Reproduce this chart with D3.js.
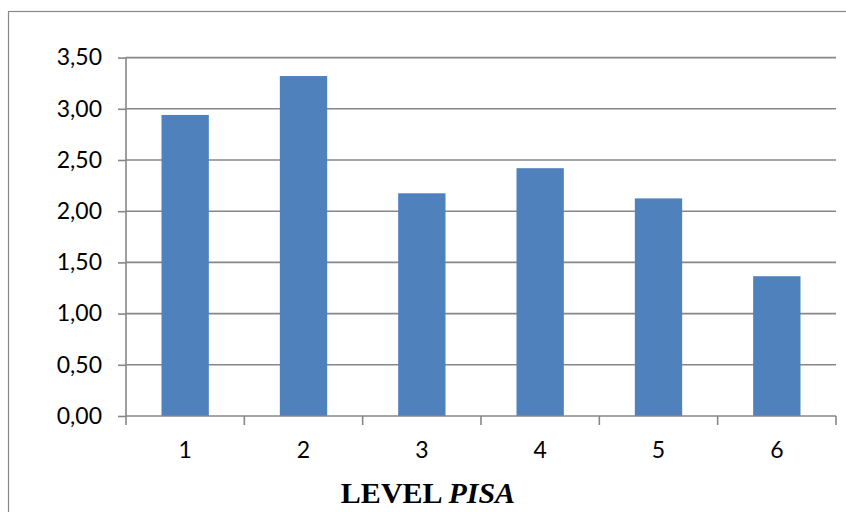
<!DOCTYPE html>
<html>
<head>
<meta charset="utf-8">
<script src="https://cdn.jsdelivr.net/npm/d3@7"></script>
<style>
  html, body { margin: 0; padding: 0; background: #fff; }
  svg { display: block; }
</style>
</head>
<body>
<svg id="chart" width="846" height="512"></svg>
<script>
const categories = ["1", "2", "3", "4", "5", "6"];
const values = [2.94, 3.32, 2.175, 2.42, 2.125, 1.365];
const yTicks = [0, 0.5, 1.0, 1.5, 2.0, 2.5, 3.0, 3.5];
const xTitle = "LEVEL ";
const xTitleItalic = "PISA";

const svg = d3.select("#chart");
const W = 846, H = 512;
const m = { left: 126, right: 10, top: 57.6, bottom: 96 };
const plotW = W - m.left - m.right;
const plotH = H - m.top - m.bottom;

// outer chart border
svg.append("rect")
  .attr("x", 8.5).attr("y", 11.5)
  .attr("width", 846).attr("height", 520)
  .attr("fill", "none").attr("stroke", "#898989").attr("stroke-width", 1.2);

const g = svg.append("g").attr("transform", `translate(${m.left},${m.top})`);

const x = d3.scaleBand().domain(categories).range([0, plotW]).padding(0);
const y = d3.scaleLinear().domain([0, 3.5]).range([plotH, 0]);

// gridlines
g.append("g").selectAll("line")
  .data(yTicks.filter(d => d > 0))
  .join("line")
  .attr("x1", 0).attr("x2", plotW)
  .attr("y1", d => y(d)).attr("y2", d => y(d))
  .attr("stroke", "#878787").attr("stroke-width", 1.6);

// bars
const barW = x.bandwidth() * 0.4;
g.append("g").selectAll("rect")
  .data(values)
  .join("rect")
  .attr("x", (d, i) => x(categories[i]) + (x.bandwidth() - barW) / 2)
  .attr("y", d => y(d))
  .attr("width", barW)
  .attr("height", d => y(0) - y(d))
  .attr("fill", "#4F81BD");

// y axis
const yAxis = d3.axisLeft(y).tickValues(yTicks)
  .tickFormat(d => d3.format(".2f")(d).replace(".", ","))
  .tickSize(8).tickPadding(16);
const ya = g.append("g").call(yAxis);
ya.select(".domain").attr("stroke", "#878787").attr("stroke-width", 1.6).attr("d", `M0,${plotH}V0`);
ya.selectAll(".tick line").attr("stroke", "#878787").attr("stroke-width", 1.6);
ya.selectAll(".tick text")
  .attr("font-family", "Lato, 'Open Sans', sans-serif")
  .attr("font-size", 23).attr("fill", "#000");

// x axis
const xTickPos = d3.range(categories.length + 1).map(i => i * x.step());
const xa = g.append("g").attr("transform", `translate(0,${plotH})`);
xa.append("line").attr("x1", 0).attr("x2", plotW).attr("y1", 0).attr("y2", 0)
  .attr("stroke", "#878787").attr("stroke-width", 1.6);
xa.selectAll("line.tk").data(xTickPos).join("line").attr("class", "tk")
  .attr("x1", d => d).attr("x2", d => d).attr("y1", 0).attr("y2", 9)
  .attr("stroke", "#878787").attr("stroke-width", 1.6);
xa.selectAll("text.lbl").data(categories).join("text").attr("class", "lbl")
  .attr("x", d => x(d) + x.bandwidth() / 2)
  .attr("y", 42)
  .attr("text-anchor", "middle")
  .attr("font-family", "Lato, 'Open Sans', sans-serif")
  .attr("font-size", 23).attr("fill", "#000")
  .text(d => d);

// x axis title
const t = svg.append("text")
  .attr("x", 428)
  .attr("y", 503)
  .attr("text-anchor", "middle")
  .attr("font-family", "'Liberation Serif', 'Times New Roman', serif")
  .attr("font-size", 30).attr("font-weight", "bold").attr("fill", "#000");
t.append("tspan").text(xTitle);
t.append("tspan").attr("font-style", "italic").text(xTitleItalic);
</script>
</body>
</html>
